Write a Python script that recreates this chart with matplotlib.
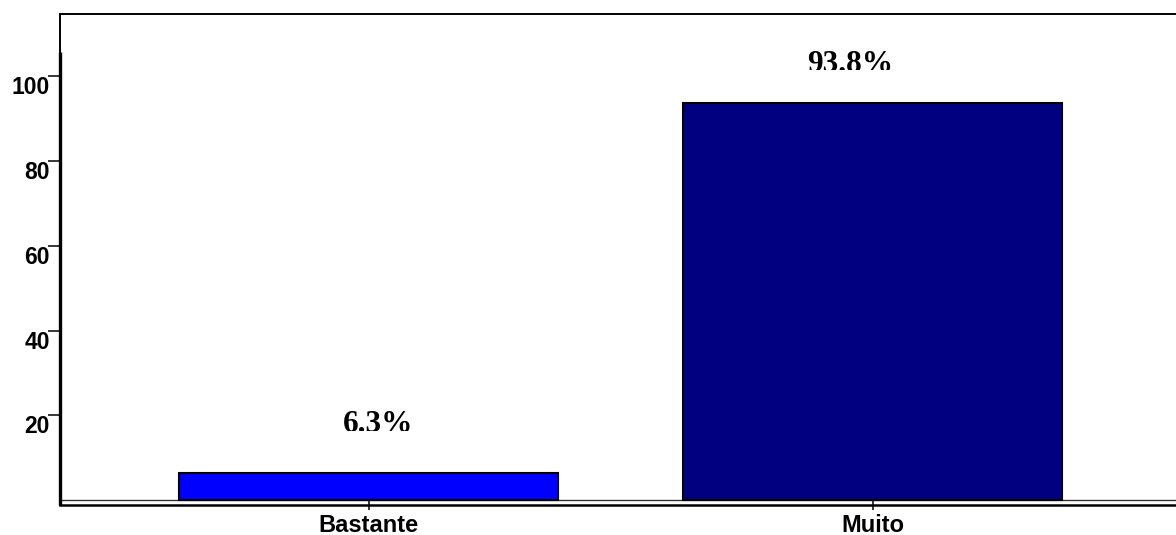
import matplotlib
matplotlib.use("Agg")
import matplotlib.pyplot as plt
from matplotlib.transforms import Bbox, TransformedBbox, ScaledTranslation

# Data
categories = ["Bastante", "Muito"]
values = [6.3, 93.8]
value_labels = ["6.3%", "93.8%"]
bar_colors = ["#0000FF", "#000080"]
y_ticks = [20, 40, 60, 80, 100]

# Label placement (pixels): horizontal shift from bar centre, baseline height above bar top
label_dx = [9, -23]
label_dy = [41, 31]

PX = 1 / 100.0  # one pixel in inches at dpi=100

fig = plt.figure(figsize=(11.76, 5.35), dpi=100)
ax = fig.add_axes([59.5 / 1176, 30 / 535, (1182 - 59.5) / 1176, 491 / 535])

x = list(range(len(categories)))
ax.bar(x, values, width=0.752, color=bar_colors, edgecolor="black", linewidth=1.5, zorder=3)

ymin, ymax = -1.18, 114.7
ax.set_xlim(-0.614, 1.614)
ax.set_ylim(ymin, ymax)

# Frame
for side in ("top", "left", "bottom"):
    ax.spines[side].set_linewidth(1.4)
    ax.spines[side].set_color("black")
ax.spines["right"].set_visible(False)
ax.spines["bottom"].set_linewidth(1.8)

# Heavier value axis and the zero baseline
ax.plot([-0.614, -0.614], [ymin, 105.7], color="black", linewidth=2.4,
        clip_on=False, zorder=5, solid_capstyle="butt")
ax.axhline(0, color="#333333", linewidth=1.0, zorder=2)

# Y axis ticks
ax.set_yticks(y_ticks)
ax.set_yticklabels([str(t) for t in y_ticks], fontfamily="Liberation Sans",
                   fontweight="bold", fontsize=16.5)
ax.tick_params(axis="y", direction="out", length=8.6, width=1.1, pad=-1.5)
for lbl in ax.get_yticklabels():
    lbl.set_va("top")

# X axis ticks
ax.set_xticks(x)
ax.set_xticklabels(categories, fontfamily="Liberation Sans", fontweight="bold", fontsize=17)
ax.tick_params(axis="x", direction="inout", length=7.2, width=1.1, pad=3.0)

# Value labels, trimmed just above their baseline
for i, (v, txt) in enumerate(zip(values, value_labels)):
    trans = ax.transData + ScaledTranslation(label_dx[i] * PX, label_dy[i] * PX, fig.dpi_scale_trans)
    t = ax.text(i, v, txt, transform=trans, ha="center", va="baseline",
                fontfamily="Liberation Serif", fontweight="bold", fontsize=22.5, zorder=6)
    clip_trans = ax.transData + ScaledTranslation(0, (label_dy[i] + 1.5) * PX, fig.dpi_scale_trans)
    t.set_clip_path(None)
    t.set_clip_box(TransformedBbox(Bbox([[i - 0.5, v], [i + 0.5, v + 60]]), clip_trans))
    t.set_clip_on(True)

fig.savefig("out.png", dpi=100)
